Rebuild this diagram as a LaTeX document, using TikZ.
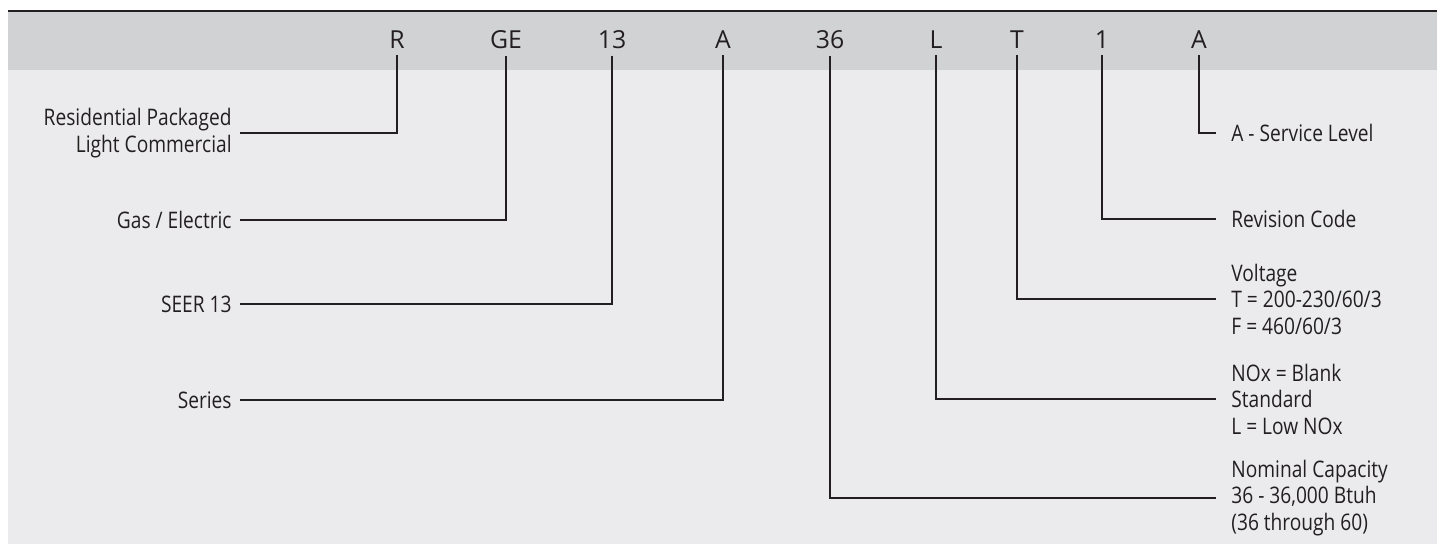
\documentclass[tikz,border=0pt]{standalone}
\usepackage{fontspec}
\usepackage{xcolor}
\usepackage{tikz}
\usetikzlibrary{positioning}
\newfontfamily\codefont{Open Sans}
\newfontfamily\lblfont[FakeStretch=0.84]{Open Sans}
\definecolor{headgray}{HTML}{D1D2D4}
\definecolor{bodygray}{HTML}{EBEBED}
\definecolor{inkdark}{HTML}{231F20}
\tikzset{
	code/.style = {anchor=base, inner xsep=0pt, inner ysep=3pt, font=\codefont\fontsize{12.4}{14}\selectfont, text=inkdark},
	leftlbl/.style = {anchor=east, inner xsep=4pt, inner ysep=0pt, align=right, font=\lblfont\fontsize{11.4}{13.25}\selectfont, text=inkdark},
	rightlbl/.style = {anchor=west, inner xsep=7.5pt, inner ysep=0pt, align=left, font=\lblfont\fontsize{11.4}{13.25}\selectfont, text=inkdark},
	lead/.style = {draw=inkdark, line width=1.2pt}
}

\begin{document}
\begin{tikzpicture}[x = 0.5pt, y = -0.5pt]
						\useasboundingbox (0,0) rectangle (1437,545);
						\begin{scope}
							\fill [bodygray] (8,12) rectangle (1437,544);
							\fill [headgray] (8,12) rectangle (1437,70);
							\draw [inkdark, line width=1.25pt] (8,11) -- (1437,11);
						\end{scope}
						\begin{scope}
							\node [code] (cR) at (397,49) {R};
							\node [code] (cGE) at (506,49) {GE};
							\node [code] (cSeer) at (612,49) {13};
							\node [code] (cSeries) at (723,49) {A};
							\node [code] (cCap) at (830,49) {36};
							\node [code] (cNox) at (936,49) {L};
							\node [code] (cVolt) at (1017,49) {T};
							\node [code] (cRev) at (1102,49) {1};
							\node [code] (cServ) at (1199,49) {A};
						\end{scope}
						\begin{scope}
							\node [leftlbl] (lR) at (240,133) {Residential Packaged\\Light Commercial};
							\node [leftlbl] (lGE) at (240,220) {Gas / Electric};
							\node [leftlbl] (lSeer) at (240,304) {SEER 13};
							\node [leftlbl] (lSeries) at (240,400) {Series};
							\node [rightlbl] (lServ) at (1216,133) {A - Service Level};
							\node [rightlbl] (lRev) at (1216,219) {Revision Code};
							\node [rightlbl] (lVolt) at (1216,299) {Voltage\\T = 200-230/60/3\\F = 460/60/3};
							\node [rightlbl] (lNox) at (1216,399) {NOx = Blank\\Standard\\L = Low NOx};
							\node [rightlbl] (lCap) at (1216,498) {Nominal Capacity\\36 - 36,000 Btuh\\(36 through 60)};
						\end{scope}
						\begin{scope}[lead]
							\draw (cR.south) |- (lR.east);
							\draw (cGE.south) |- (lGE.east);
							\draw (cSeer.south) |- (lSeer.east);
							\draw (cSeries.south) |- (lSeries.east);
							\draw (cCap.south) |- (lCap.west);
							\draw (cNox.south) |- (lNox.west);
							\draw (cVolt.south) |- (lVolt.west);
							\draw (cRev.south) |- (lRev.west);
							\draw (cServ.south) |- (lServ.west);
						\end{scope}
					\end{tikzpicture}
\end{document}
